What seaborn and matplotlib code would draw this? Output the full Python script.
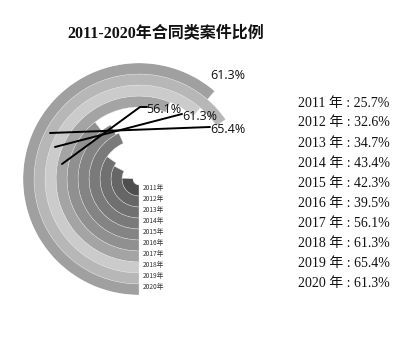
import numpy as np
import matplotlib
matplotlib.use("Agg")
import matplotlib.pyplot as plt
import seaborn as sns
from matplotlib.lines import Line2D

years = ["2011", "2012", "2013", "2014", "2015", "2016", "2017", "2018", "2019", "2020"]
ratios = [25.7, 32.6, 34.7, 43.4, 42.3, 39.5, 56.1, 61.3, 65.4, 61.3]
ring_greys = ["#4e4e4e", "#666666", "#707070", "#7a7a7a", "#848484", "#909090",
              "#a4a4a4", "#cbcbcb", "#b7b7b7", "#a0a0a0"]
title = "2011-2020年合同类案件比例"

sns.set_style("white")
plt.rcParams["font.family"] = ["Liberation Serif", "Noto Sans CJK SC", "DejaVu Sans"]

W, H = 400, 352
fig = plt.figure(figsize=(W / 100, H / 100), dpi=100)

cx, cy, R = 139, 179, 116
ax = fig.add_axes([(cx - R) / W, (H - cy - R) / H, 2 * R / W, 2 * R / H], projection="polar")
ax.set_theta_zero_location("S")
ax.set_theta_direction(-1)
ax.set_ylim(0, R)
ax.set_axis_off()

hole, ring_w = 6, 11
for i, (y, v) in enumerate(zip(years, ratios)):
    ax.bar(0, ring_w, width=v / 100 * 2 * np.pi, bottom=hole + i * ring_w,
           align="edge", color=ring_greys[i], edgecolor="#e6e6e6", linewidth=0.25)
    ax.annotate(y + "年", xy=(0, hole + (i + 0.5) * ring_w), xytext=(2.5, 2),
                textcoords="offset points", fontsize=4.8,
                family=["Noto Sans CJK SC"], color="#333333", ha="left", va="center")

# labels at ends of the last four arcs
lab_font = dict(fontsize=9, family=["Open Sans"], color="#111111")
offsets = {6: (-3, -2), 7: (2, -3), 8: (5, -5), 9: (12, 14)}
for i, (dx, dy) in offsets.items():
    th = ratios[i] / 100 * 2 * np.pi
    r = hole + (i + 0.5) * ring_w
    ax.annotate(f"{ratios[i]}%", xy=(th, r), xytext=(dx, dy), textcoords="offset points",
                ha="center", va="center", **lab_font)

# leader lines (figure pixels)
leaders = [((50, 133), (210, 127)), ((55, 147), (182, 114)), ((62, 164), (140, 107), (147, 107))]
for pts in leaders:
    xs = [p[0] / W for p in pts]
    ys = [1 - p[1] / H for p in pts]
    fig.add_artist(Line2D(xs, ys, color="black", lw=1.4, transform=fig.transFigure))

fig.text(166 / W, 1 - 33 / H, title, ha="center", va="center", fontsize=11.5,
         fontweight="bold", color="#111111")

for i, (y, v) in enumerate(zip(years, ratios)):
    fig.text(298 / W, 1 - (103 + 20 * i) / H, f"{y} 年 : {v}%", ha="left", va="center",
             fontsize=10, color="#111111")

fig.savefig("out.png", dpi=100, facecolor="white")
